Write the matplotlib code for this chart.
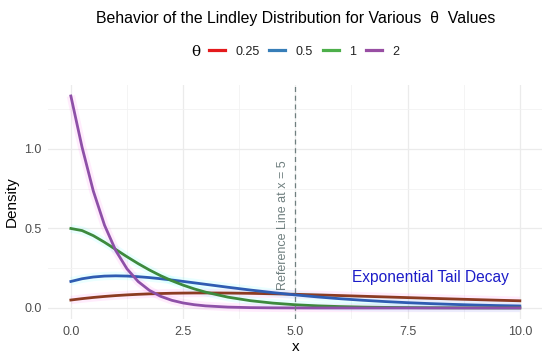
import matplotlib
matplotlib.use("Agg")
import matplotlib.pyplot as plt
from matplotlib.lines import Line2D
from matplotlib.ticker import MultipleLocator, FormatStrFormatter

plt.rcParams['font.family'] = ['Liberation Sans', 'DejaVu Sans']

# --- data ---
x_vals = [0, 0.25, 0.5, 0.75, 1, 1.25, 1.5, 1.75, 2, 2.25, 2.5, 2.75, 3,
          3.5, 4, 4.5, 5, 5.5, 6, 6.5, 7, 7.5, 8, 8.5, 9, 9.5, 10]
theta_labels = ['0.25', '0.5', '1', '2']
dens_025 = [0.0500, 0.0587, 0.0662, 0.0725, 0.0779, 0.0823, 0.0859, 0.0888, 0.0910,
            0.0926, 0.0937, 0.0943, 0.0945, 0.0938, 0.0920, 0.0893, 0.0860, 0.0822,
            0.0781, 0.0738, 0.0695, 0.0652, 0.0609, 0.0567, 0.0527, 0.0488, 0.0452]
dens_05 = [0.1667, 0.1839, 0.1947, 0.2005, 0.2022, 0.2007, 0.1968, 0.1911, 0.1839,
           0.1759, 0.1671, 0.1580, 0.1488, 0.1303, 0.1128, 0.0966, 0.0821, 0.0693,
           0.0581, 0.0485, 0.0403, 0.0333, 0.0275, 0.0226, 0.0185, 0.0151, 0.0124]
dens_1 = [0.5000, 0.4868, 0.4549, 0.4133, 0.3679, 0.3223, 0.2789, 0.2389, 0.2030,
          0.1713, 0.1436, 0.1199, 0.0996, 0.0680, 0.0458, 0.0306, 0.0202, 0.0133,
          0.0087, 0.0056, 0.0037, 0.0024, 0.0015, 0.0010, 0.0006, 0.0004, 0.0003]
dens_2 = [1.3333, 1.0109, 0.7358, 0.5206, 0.3609, 0.2462, 0.1660, 0.1107, 0.0733,
          0.0481, 0.0315, 0.0205, 0.0132, 0.0055, 0.0022, 0.0009, 0.0004, 0.0001,
          0.0001, 0.0, 0.0, 0.0, 0.0, 0.0, 0.0, 0.0, 0.0]

series = [dens_025, dens_05, dens_1, dens_2]
legend_colors = ['#e41a1c', '#377eb8', '#4daf4a', '#984ea3']
line_colors = ['#8c3b22', '#2f5cb2', '#3d8a3d', '#8e50a8']
glow_colors = ['#ff66ee', '#55ffff', '#55ffff', '#ff66ee']

fig = plt.figure(figsize=(5.5, 3.61), dpi=100)
ax = fig.add_axes([0.088, 0.1175, 0.898, 0.646])

# faint glow behind each curve
for ys, gc in zip(series, glow_colors):
    ax.plot(x_vals, ys, color=gc, lw=6, alpha=0.12, solid_capstyle='butt', zorder=2)
for ys, lc in zip(series, line_colors):
    ax.plot(x_vals, ys, color=lc, lw=2.0, zorder=3)

# reference line
ax.axvline(5, color='#6f7f7f', lw=0.9, ls=(0, (4, 3)), zorder=4)
ax.text(4.72, 0.52, 'Reference Line at x = 5', rotation=90, ha='center', va='center',
        color='#6f7f7f', fontsize=9)
ax.text(8.0, 0.19, 'Exponential Tail Decay', ha='center', va='center',
        color='#1c1cc8', fontsize=11.2)

ax.set_xlim(-0.5, 10.5)
ax.set_ylim(-0.0667, 1.4)
ax.xaxis.set_major_locator(MultipleLocator(2.5))
ax.xaxis.set_minor_locator(MultipleLocator(1.25))
ax.yaxis.set_major_locator(MultipleLocator(0.5))
ax.yaxis.set_minor_locator(MultipleLocator(0.25))
ax.xaxis.set_major_formatter(FormatStrFormatter('%.1f'))
ax.yaxis.set_major_formatter(FormatStrFormatter('%.1f'))
ax.grid(which='major', color='#ebebeb', lw=0.9)
ax.grid(which='minor', color='#f2f2f2', lw=0.6)
ax.set_axisbelow(True)
for s in ax.spines.values():
    s.set_visible(False)
ax.tick_params(which='both', length=0, labelsize=9, labelcolor='#4d4d4d', pad=5)
ax.set_xlabel('x', fontsize=11, labelpad=2)
ax.set_ylabel('Density', fontsize=11, labelpad=4)

fig.text(0.538, 0.95, 'Behavior of the Lindley Distribution for Various  \u03b8  Values',
         ha='center', va='center', fontsize=11.4)

handles = [Line2D([], [], color=c, lw=2.3) for c in legend_colors]
fig.text(0.356, 0.855, '\u03b8', ha='center', va='center', fontsize=11,
         family=['DejaVu Serif'])
fig.legend(handles, theta_labels, loc='center', bbox_to_anchor=(0.553, 0.857), ncol=4,
           frameon=False, fontsize=9, handlelength=1.25, handletextpad=0.85,
           columnspacing=0.8, labelcolor='#222222')

fig.savefig('out.png', dpi=100)
